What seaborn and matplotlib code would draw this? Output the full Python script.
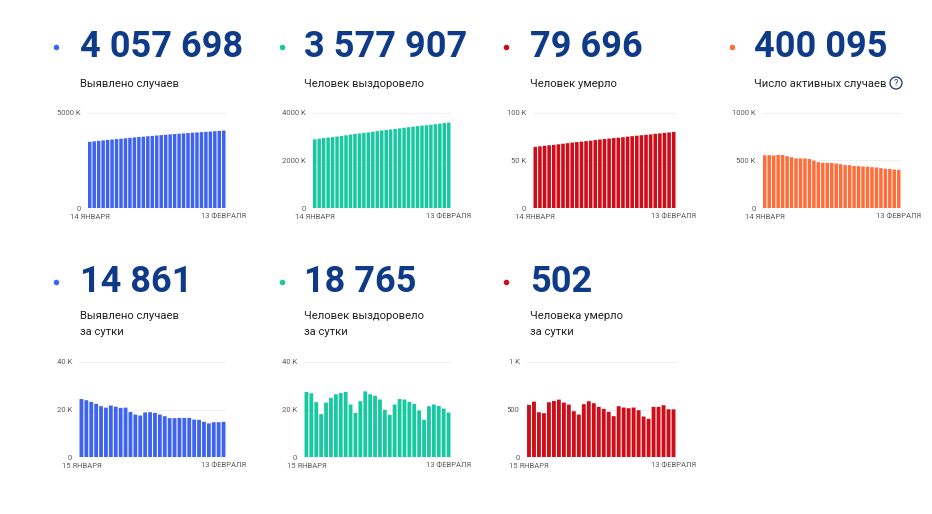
import matplotlib
matplotlib.use("Agg")
import matplotlib.pyplot as plt
import seaborn as sns
import pandas as pd
from matplotlib.patches import Circle

# ---------------- data ----------------
days_total = pd.date_range("2021-01-14", "2021-02-13")   # 31 days
days_daily = pd.date_range("2021-01-15", "2021-02-13")   # 30 days

# cumulative, thousands
cases_total = [3470, 3495, 3520, 3544, 3568, 3590, 3612, 3634, 3656, 3678, 3699,
               3719, 3739, 3759, 3779, 3799, 3819, 3838, 3856, 3874, 3891, 3908,
               3926, 3943, 3960, 3976, 3992, 4007, 4023, 4040, 4058]
recovered_total = [2878, 2905, 2932, 2955, 2974, 2997, 3022, 3049, 3076, 3104, 3126,
                   3145, 3169, 3197, 3224, 3250, 3274, 3294, 3313, 3336, 3361, 3386,
                   3410, 3433, 3453, 3469, 3491, 3514, 3536, 3557, 3578]
deaths_total = [64.1, 64.7, 65.3, 65.8, 66.2, 66.8, 67.4, 68.0, 68.6, 69.1, 69.6,
                70.1, 70.6, 71.2, 71.8, 72.3, 72.8, 73.3, 73.7, 74.2, 74.8, 75.3,
                75.8, 76.3, 76.7, 77.1, 77.7, 78.2, 78.7, 79.2, 79.7]
active_total = [554, 554, 551, 558, 556, 544, 533, 522, 521, 520, 515,
                497, 482, 475, 474, 473, 468, 461, 451, 450, 441, 440,
                436, 435, 429, 426, 419, 412, 411, 404, 400]

# per day
cases_daily = [24.4, 23.9, 23.2, 22.4, 21.4, 20.8, 21.7, 21.2, 20.7, 20.8,
               19.0, 17.9, 17.5, 18.8, 18.9, 18.6, 17.9, 17.2, 16.4, 16.4,
               16.5, 16.5, 16.5, 15.8, 15.7, 14.9, 14.2, 14.7, 14.7, 14.861]
recovered_daily = [27.4, 26.8, 23.1, 18.1, 22.9, 24.9, 26.4, 26.9, 27.4, 22.1,
                   18.6, 23.5, 27.6, 26.4, 25.8, 24.2, 19.9, 17.8, 22.1, 24.4,
                   24.2, 23.2, 22.4, 19.6, 15.7, 21.4, 22.1, 21.5, 20.4, 18.765]
deaths_daily = [549, 583, 472, 462, 576, 590, 604, 573, 552, 483,
                448, 556, 587, 566, 528, 507, 476, 431, 535, 521,
                514, 521, 493, 427, 403, 528, 528, 545, 503, 502]

headlines = ["4 057 698", "3 577 907", "79 696", "400 095",
             "14 861", "18 765", "502"]
subtitles = ["Выявлено случаев", "Человек выздоровело", "Человек умерло",
             "Число активных случаев",
             "Выявлено случаев\nза сутки", "Человек выздоровело\nза сутки",
             "Человека умерло\nза сутки"]

BLUE, GREEN, RED, ORANGE = "#3d63f0", "#17c9a1", "#cf0c18", "#ff6d3a"
NAVY = "#0e3a88"

# values, days, color, yticks, ytick labels, first label, last label,
# plot rect in px (left, right), row, text x, dot x
panels = [
    (cases_total, days_total, BLUE, [0, 5000], ["0", "5000 K"],
     "14 ЯНВАРЯ", "13 ФЕВРАЛЯ", (87.5, 226), 0, 80, 55.5),
    (recovered_total, days_total, GREEN, [0, 2000, 4000], ["0", "2000 K", "4000 K"],
     "14 ЯНВАРЯ", "13 ФЕВРАЛЯ", (312.5, 451), 0, 304.5, 281.5),
    (deaths_total, days_total, RED, [0, 50, 100], ["0", "50 K", "100 K"],
     "14 ЯНВАРЯ", "13 ФЕВРАЛЯ", (533, 676), 0, 530, 505.5),
    (active_total, days_total, ORANGE, [0, 500, 1000], ["0", "500 K", "1000 K"],
     "14 ЯНВАРЯ", "13 ФЕВРАЛЯ", (762.5, 901), 0, 754.5, 731.5),
    (cases_daily, days_daily, BLUE, [0, 20, 40], ["0", "20 K", "40 K"],
     "15 ЯНВАРЯ", "13 ФЕВРАЛЯ", (79, 226), 1, 80, 55.5),
    (recovered_daily, days_daily, GREEN, [0, 20, 40], ["0", "20 K", "40 K"],
     "15 ЯНВАРЯ", "13 ФЕВРАЛЯ", (304, 451), 1, 304.5, 281.5),
    (deaths_daily, days_daily, RED, [0, 500, 1000], ["0", "500", "1 K"],
     "15 ЯНВАРЯ", "13 ФЕВРАЛЯ", (526.5, 676), 1, 530, 505.5),
]

# row geometry in px: plot top, plot bottom, number baseline, subtitle baseline, dot y
rows = [(112.5, 208.3, 57.4, 86.7, 47.3),
        (361.8, 457.3, 291.7, 319.3, 281.7)]

W, H = 932, 514

sns.set_theme(style="white")
plt.rcParams["font.family"] = ["Roboto", "DejaVu Sans"]

fig = plt.figure(figsize=(W / 100, H / 100), dpi=100)
fig.patch.set_facecolor("white")

# overlay in pixel coordinates for the headline texts
over = fig.add_axes([0, 0, 1, 1])
over.set_xlim(0, W)
over.set_ylim(H, 0)
over.axis("off")

for i, (vals, days, col, yt, ytl, first, last, (l, r), row, tx, dx) in enumerate(panels):
    top, bot, num_y, sub_y, dot_y = rows[row]
    ax = fig.add_axes([l / W, 1 - bot / H, (r - l) / W, (bot - top) / H])
    df = pd.DataFrame({"day": days.strftime("%d.%m"), "value": vals})
    sns.barplot(data=df, x="day", y="value", color=col, saturation=1,
                width=0.78, linewidth=0, edgecolor="none", ax=ax, zorder=2)
    # no pixel snapping, so every gap between bars stays visible
    for p in ax.patches:
        p.set_snap(False)
    n = len(vals)
    ax.set_xlim(-0.5, n - 0.5)
    ax.set_ylim(0, yt[-1])
    ax.set_yticks(yt, ytl)
    ax.set_xticks([0, n - 1], [first, last])
    ax.set_xlabel("")
    ax.set_ylabel("")
    ax.tick_params(axis="both", length=0, labelsize=5.5, colors="#5a5a5a")
    ax.tick_params(axis="y", pad=5)
    ax.tick_params(axis="x", pad=4)
    ax.yaxis.grid(True, color="#efefef", lw=0.8, zorder=0)
    ax.set_axisbelow(True)
    ax.set_facecolor("none")
    sns.despine(ax=ax, left=True, bottom=True)

    over.scatter([dx], [dot_y], s=16, color=col, linewidths=0)
    over.text(tx, num_y, headlines[i], fontsize=26, fontweight="bold",
              color=NAVY, va="baseline", ha="left")
    for k, line in enumerate(subtitles[i].split("\n")):
        over.text(tx, sub_y + 16 * k, line, fontsize=8.1, color="#222222",
                  va="baseline", ha="left")

# question mark icon next to the active cases subtitle
over.add_patch(Circle((896, 83), 6, fill=False, edgecolor="#1f3566", lw=0.9))
over.text(896, 83.4, "?", fontsize=6.5, color="#1f3566", ha="center", va="center")

fig.savefig("out.png", dpi=100, facecolor="white")
